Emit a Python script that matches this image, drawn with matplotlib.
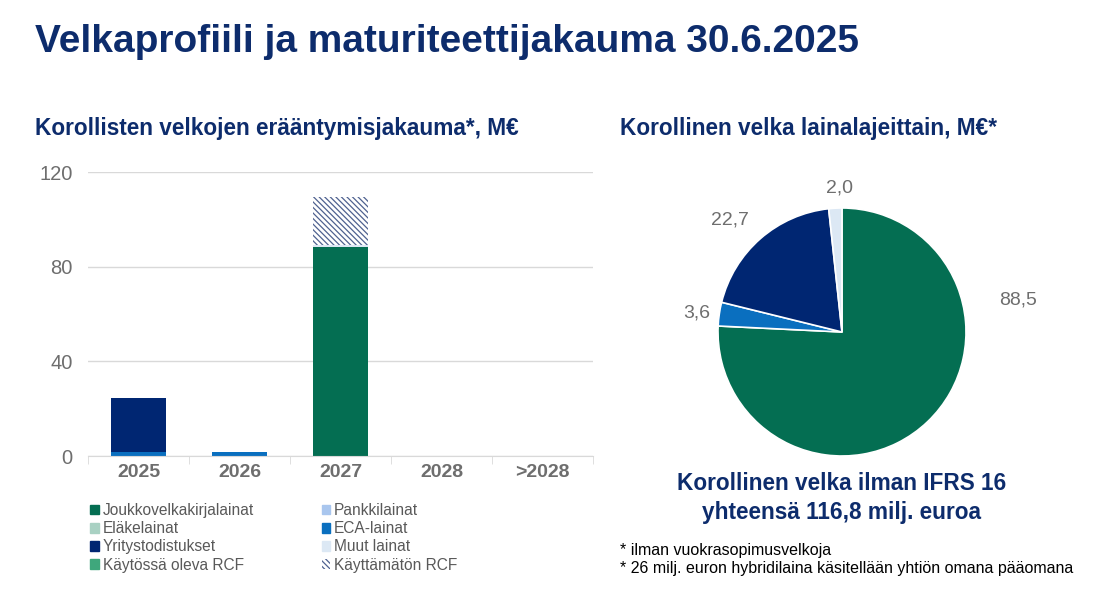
import matplotlib.pyplot as plt
import matplotlib.patches as mpatches
import numpy as np

plt.rcParams['font.family'] = ['Liberation Sans', 'DejaVu Sans']
plt.rcParams['hatch.linewidth'] = 0.9

NAVY = '#0D2C6C'
GRAY = '#6E6E6E'

years = ['2025', '2026', '2027', '2028', '>2028']
joukko = [0, 0, 88.5, 0, 0]
pankki = [0, 0, 0, 0, 0]
elake = [0, 0, 0, 0, 0]
eca = [1.8, 1.8, 0, 0, 0]
yritys = [22.7, 0, 0, 0, 0]
muut = [0, 0, 0.6, 0, 0]
rcf_used = [0, 0, 0, 0, 0]
rcf_unused = [0, 0, 20.4, 0, 0]

pie_vals = [88.5, 3.6, 22.7, 2.0]
pie_labels = ['88,5', '3,6', '22,7', '2,0']

c_joukko = '#046E52'
c_pankki = '#A9C6EE'
c_elake = '#A9D1C3'
c_eca = '#0A6FBF'
c_yritys = '#002672'
c_muut = '#DCE8F4'
c_rcf = '#3FA77C'
c_hatch = '#4F6290'
HATCH = '\\\\\\\\\\\\'

fig = plt.figure(figsize=(11, 5.89), dpi=100)

fig.text(35 / 1100, 1 - 42 / 589, 'Velkaprofiili ja maturiteettijakauma 30.6.2025',
         fontsize=28, fontweight='bold', color=NAVY, va='center')
fig.text(35 / 1100, 1 - 128 / 589, 'Korollisten velkojen erääntymisjakauma*, M€',
         fontsize=16.3, fontweight='bold', color=NAVY, va='center')
fig.text(620 / 1100, 1 - 128 / 589, 'Korollinen velka lainalajeittain, M€*',
         fontsize=16.3, fontweight='bold', color=NAVY, va='center')

# pylväskaavio
ax = fig.add_axes([88 / 1100, 1 - 456 / 589, 505 / 1100, 284 / 589])
x = np.arange(len(years))
w = 0.54
bottom = np.zeros(len(years))
series = [(joukko, c_joukko), (pankki, c_pankki), (elake, c_elake), (eca, c_eca),
          (yritys, c_yritys), (muut, c_muut), (rcf_used, c_rcf)]
for vals, col in series:
    ax.bar(x, vals, w, bottom=bottom, color=col, linewidth=0)
    bottom += np.array(vals)
ax.bar(x, rcf_unused, w, bottom=bottom, color='white', edgecolor=c_hatch,
       hatch=HATCH, linewidth=0)

ax.set_xlim(-0.5, len(years) - 0.5)
ax.set_ylim(0, 120)
ax.set_yticks([0, 40, 80, 120])
ax.set_xticks(x)
ax.set_xticklabels(years, fontweight='bold')
ax.tick_params(axis='y', length=0, labelsize=14.5, labelcolor=GRAY, pad=11)
ax.tick_params(axis='x', length=0, labelsize=14, labelcolor=GRAY, pad=6)
ax.set_xticks(np.arange(len(years) + 1) - 0.5, minor=True)
ax.tick_params(axis='x', which='minor', length=6, color='#D9D9D9')
ax.grid(axis='y', color='#D9D9D9', linewidth=1)
ax.set_axisbelow(True)
for s in ['left', 'right', 'top']:
    ax.spines[s].set_visible(False)
ax.spines['bottom'].set_color('#D9D9D9')

handles = [
    mpatches.Patch(color=c_joukko, label='Joukkovelkakirjalainat'),
    mpatches.Patch(color=c_elake, label='Eläkelainat'),
    mpatches.Patch(color=c_yritys, label='Yritystodistukset'),
    mpatches.Patch(color=c_rcf, label='Käytössä oleva RCF'),
    mpatches.Patch(color=c_pankki, label='Pankkilainat'),
    mpatches.Patch(color=c_eca, label='ECA-lainat'),
    mpatches.Patch(color=c_muut, label='Muut lainat'),
    mpatches.Patch(facecolor='white', edgecolor=c_hatch, hatch=HATCH, linewidth=0,
                   label='Käyttämätön RCF'),
]
leg = fig.legend(handles=handles, ncol=2, loc='upper left',
                 bbox_to_anchor=(84 / 1100, 1 - 497 / 589), frameon=False,
                 fontsize=11.2, handlelength=0.55, handleheight=0.55, handletextpad=0.25,
                 columnspacing=4.35, labelspacing=0.2, borderaxespad=0)
for t in leg.get_texts():
    t.set_color('#595959')

# piirakka
pax = fig.add_axes([718 / 1100, 1 - 456 / 589, 248 / 1100, 248 / 589])
pax.pie(pie_vals, colors=[c_joukko, c_eca, c_yritys, c_muut], startangle=90,
        counterclock=False, radius=1,
        wedgeprops=dict(edgecolor='white', linewidth=1.2))
label_pos = [(1.42, 0.26), (-1.17, 0.15), (-0.9, 0.9), (-0.02, 1.16)]
for lab, (lx, ly) in zip(pie_labels, label_pos):
    pax.text(lx, ly, lab, fontsize=14, color=GRAY, ha='center', va='center')
pax.set_xlim(-1, 1)
pax.set_ylim(-1, 1)
pax.set_aspect('equal')

fig.text(842 / 1100, 1 - 484 / 589, 'Korollinen velka ilman IFRS 16',
         fontsize=16.3, fontweight='bold', color=NAVY, ha='center', va='center')
fig.text(842 / 1100, 1 - 512 / 589, 'yhteensä 116,8 milj. euroa',
         fontsize=16.3, fontweight='bold', color=NAVY, ha='center', va='center')
fig.text(620 / 1100, 1 - 550 / 589, '* ilman vuokrasopimusvelkoja',
         fontsize=11.5, color='black', va='center')
fig.text(620 / 1100, 1 - 569 / 589, '* 26 milj. euron hybridilaina käsitellään yhtiön omana pääomana',
         fontsize=11.5, color='black', va='center')

fig.savefig('out.png', dpi=100)
